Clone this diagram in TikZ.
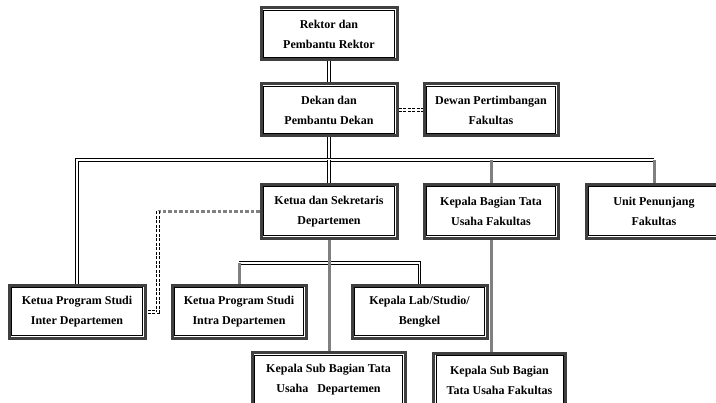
\documentclass[tikz,border=0pt]{standalone}
\usepackage{fontspec}
\setmainfont{Liberation Serif}
\begin{document}
\begin{tikzpicture}[x=1pt,y=-1pt,
  box/.style={draw=black!75, line width=3pt, fill=white, inner sep=0pt,
    minimum width=#1, minimum height=52pt, align=center,
    font=\fontsize{12}{20}\selectfont\bfseries},
  box/.default=136pt,
  dbl/.style={draw=black, line width=1pt, double=white, double distance=1.4pt},
  gry/.style={draw=black!50, line width=3pt},
  dbldash/.style={draw=black, line width=1pt, double=white, double distance=1.4pt, dash pattern=on 3pt off 1.5pt},
  sqdot/.style={draw=black!50, line width=3.5pt, dash pattern=on 3.5pt off 2pt}
]
\useasboundingbox (0,0) rectangle (716,403);
\fill[white] (0,0) rectangle (716,403);
% connectors
\coordinate (h1) at (329,160);
\coordinate (h2) at (329,263);
\coordinate (c1) at (158,211.5);
% boxes
\node[box] (rektor) at (329,34) {Rektor dan\\Pembantu Rektor};
\node[box] (dekan) at (329,110) {Dekan dan\\Pembantu Dekan};
\node[box=134pt] (dewan) at (491,110) {Dewan Pertimbangan\\Fakultas};
\node[box, minimum height=54pt] (ketua) at (329,211.5) {Ketua dan Sekretaris\\Departemen};
\node[box=134pt, minimum height=54pt] (kb) at (491,211.5) {Kepala Bagian Tata\\Usaha Fakultas};
\node[box, minimum height=54pt] (unit) at (654,211.5) {Unit Penunjang\\Fakultas};
\node[box, minimum height=53pt] (inter) at (77,312) {Ketua Program Studi\\Inter Departemen};
\node[box=134pt, minimum height=53pt] (intra) at (239,312) {Ketua Program Studi\\Intra Departemen};
\node[box=135pt, minimum height=53pt] (lab) at (419.5,312) {Kepala Lab/Studio/\\Bengkel};
\node[box=153pt, minimum height=53pt] (subd) at (328.5,379.5) {Kepala Sub Bagian Tata\\Usaha\ \ \ Departemen};
\node[box=132pt, minimum height=53pt] (subf) at (499.5,380) {Kepala Sub Bagian\\Tata Usaha Fakultas};
% inner thin frames
\foreach \n in {rektor,dekan,dewan,ketua,kb,unit,inter,intra,lab,subd,subf}
  \draw[black, line width=1pt] ([shift={(4pt,-4pt)}]\n.north west) rectangle ([shift={(-4pt,4pt)}]\n.south east);
\draw[dbl] (rektor.south) -- (dekan.north);
\draw[dbl] (dekan.south) -- (h1);
\draw[dbl] (inter.north) -- (inter.north |- h1) -- (unit.north |- h1);
\draw[dbl] (h1) -- (ketua.north);
\draw[gry] (kb.north |- h1) -- (kb.north);
\draw[gry] (unit.north |- h1) -- (unit.north);
\draw[dbl] (intra.north |- h2) -- (lab.north |- h2) -- (lab.north);
\draw[gry] (intra.north |- h2) -- (intra.north);
\draw[gry] (ketua.south) -- (subd.north -| ketua.south);
\draw[gry] (kb.south) -- (kb.south |- subf.north);
\draw[dbldash] (dekan.east) -- (dewan.west);
\draw[sqdot] (ketua.west) -- (c1);
\draw[dbldash] (c1) -- (c1 |- inter.east) -- (inter.east);
\end{tikzpicture}
\end{document}
